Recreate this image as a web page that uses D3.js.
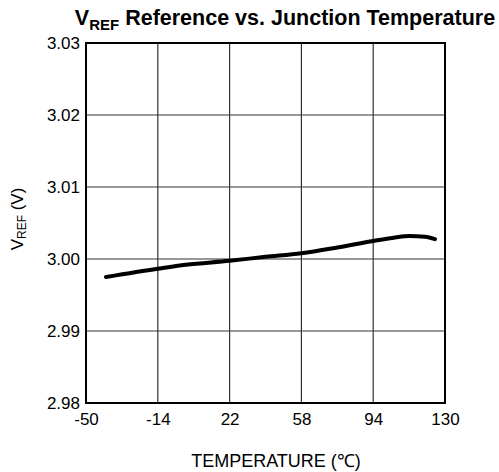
<!DOCTYPE html>
<html>
<head>
<meta charset="utf-8">
<script src="https://cdn.jsdelivr.net/npm/d3@7"></script>
<style>
  body { margin: 0; background: #fff; }
  text { font-family: "Liberation Sans", Arial, sans-serif; }
</style>
</head>
<body>
<script>
// values
const temps = [-40, -14, 0, 22, 40, 58, 76, 94, 105, 112, 120, 125];
const vref  = [2.9975, 2.99865, 2.9992, 2.99975, 3.0003, 3.0008, 3.0016, 3.0025, 3.0030, 3.0032, 3.0031, 3.00275];

const xTicks = [-50, -14, 22, 58, 94, 130];
const yTicks = [2.98, 2.99, 3.00, 3.01, 3.02, 3.03];

const W = 499, H = 472;
const margin = { left: 86, right: 54, top: 43, bottom: 69 };

const svg = d3.select("body").append("svg")
  .attr("width", W)
  .attr("height", H);

const x = d3.scaleLinear().domain([-50, 130]).range([margin.left, W - margin.right]);
const y = d3.scaleLinear().domain([2.98, 3.03]).range([H - margin.bottom, margin.top]);

// grid
svg.append("g")
  .selectAll("line")
  .data(xTicks.slice(1, -1))
  .enter().append("line")
    .attr("x1", d => x(d)).attr("x2", d => x(d))
    .attr("y1", y(3.03)).attr("y2", y(2.98))
    .attr("stroke", "#333").attr("stroke-width", 1.2);

svg.append("g")
  .selectAll("line")
  .data(yTicks.slice(1, -1))
  .enter().append("line")
    .attr("y1", d => y(d)).attr("y2", d => y(d))
    .attr("x1", x(-50)).attr("x2", x(130))
    .attr("stroke", "#333").attr("stroke-width", 1.2);

// frame
svg.append("rect")
  .attr("x", x(-50)).attr("y", y(3.03))
  .attr("width", x(130) - x(-50)).attr("height", y(2.98) - y(3.03))
  .attr("fill", "none").attr("stroke", "#000").attr("stroke-width", 2);

// tick labels via d3 axes (no lines)
const xAxis = svg.append("g")
  .attr("transform", `translate(0,${y(2.98)})`)
  .call(d3.axisBottom(x).tickValues(xTicks).tickSize(0).tickPadding(10).tickFormat(d => String(d)));
xAxis.select(".domain").remove();
xAxis.selectAll("text").attr("font-size", 17).attr("fill", "#000").attr("font-family", "Liberation Sans, Arial, sans-serif");

const yAxis = svg.append("g")
  .attr("transform", `translate(${x(-50)},0)`)
  .call(d3.axisLeft(y).tickValues(yTicks).tickSize(0).tickPadding(6).tickFormat(d3.format(".2f")));
yAxis.select(".domain").remove();
yAxis.selectAll("text").attr("font-size", 17).attr("fill", "#000").attr("font-family", "Liberation Sans, Arial, sans-serif");

// curve
const line = d3.line()
  .x((d, i) => x(temps[i]))
  .y(d => y(d))
  .curve(d3.curveMonotoneX);

svg.append("path")
  .datum(vref)
  .attr("d", line)
  .attr("fill", "none")
  .attr("stroke", "#000")
  .attr("stroke-width", 4)
  .attr("stroke-linecap", "round");

// title
const title = svg.append("text")
  .attr("x", 285).attr("y", 25)
  .attr("text-anchor", "middle")
  .attr("font-size", 21.5)
  .attr("font-weight", "bold");
title.append("tspan").text("V");
title.append("tspan").attr("dy", 5).attr("font-size", 15).text("REF");
title.append("tspan").attr("dy", -5).text(" Reference vs. Junction Temperature");

// x title
svg.append("text")
  .attr("x", 276).attr("y", 467)
  .attr("text-anchor", "middle")
  .attr("font-size", 18)
  .text("TEMPERATURE (\u2103)");

// y title
const yt = svg.append("text")
  .attr("transform", "translate(23,219) rotate(-90)")
  .attr("text-anchor", "middle")
  .attr("font-size", 17);
yt.append("tspan").text("V");
yt.append("tspan").attr("dy", 3).attr("font-size", 12).text("REF");
yt.append("tspan").attr("dy", -3).text(" (V)");
</script>
</body>
</html>
